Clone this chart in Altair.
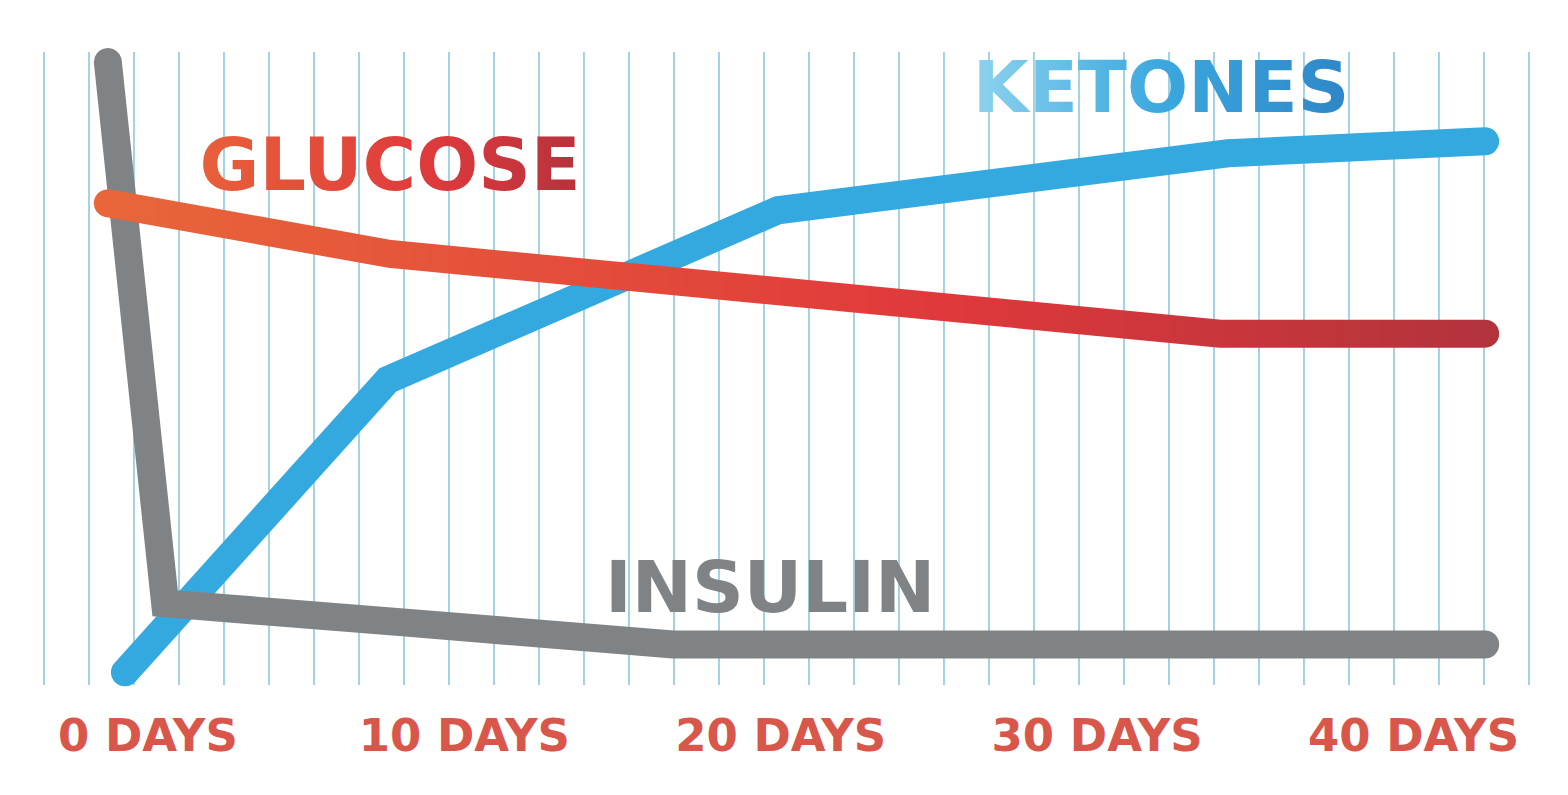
import altair as alt
import pandas as pd
import numpy as np

# ---- data ----
day_ticks = [0, 10, 20, 30, 40]
grid_start, grid_step, grid_count = -3.268, 1.4222, 34
grid_days = [round(grid_start + grid_step * k, 3) for k in range(grid_count)]

insulin_days = [-1.25, 0.56, 8.08, 16.61, 42.28]
insulin_vals = [98.4, 12.9, 9.9, 6.4, 6.4]

glucose_days = [-1.25, 7.67, 33.9, 42.28]
glucose_vals = [76.1, 68.1, 55.5, 55.5]

ketone_days = [-0.71, 7.6, 19.93, 34.15, 42.28]
ketone_vals = [2.0, 48.2, 75.0, 84.0, 85.9]

label_names = ["GLUCOSE", "KETONES", "INSULIN"]
label_days = [7.67, 32.04, 19.68]
label_vals = [78.2, 90.5, 11.5]

FONT = "DejaVu Sans"

xscale = alt.Scale(domain=[-3.268, 43.666], nice=False, zero=False)
yscale = alt.Scale(domain=[0, 100], nice=False, zero=False)
xaxis = alt.Axis(values=day_ticks, labelExpr="datum.value + ' DAYS'", grid=False,
                 ticks=False, domain=False, labelFont=FONT, labelFontWeight="bold",
                 labelFontSize=45, labelColor="#D8574A", labelPadding=65,
                 labelBaseline="alphabetic", title=None, labelFlush=False,
                 labelOverlap=False, labelLimit=0)


def X(field):
    return alt.X(f"{field}:Q", scale=xscale, axis=xaxis)


def Y(field):
    return alt.Y(f"{field}:Q", scale=yscale, axis=None)


grid_df = pd.DataFrame({"day": grid_days})
grid = alt.Chart(grid_df).mark_rule(color="#93CCDF", strokeWidth=1.7).encode(x=X("day"))

ket_df = pd.DataFrame({"day": ketone_days, "v": ketone_vals, "o": range(len(ketone_days))})
ins_df = pd.DataFrame({"day": insulin_days, "v": insulin_vals, "o": range(len(insulin_days))})
glu_df = pd.DataFrame({"day": glucose_days, "v": glucose_vals, "o": range(len(glucose_days))})

line_kw = dict(strokeWidth=28, strokeCap="round", strokeJoin="miter")

ketones = alt.Chart(ket_df).mark_line(color="#34A9DF", **line_kw).encode(
    x=X("day"), y=Y("v"), order="o:Q")
insulin = alt.Chart(ins_df).mark_line(color="#808385", **line_kw).encode(
    x=X("day"), y=Y("v"), order="o:Q")

glu_grad = alt.Gradient(
    gradient="linear", x1=0, x2=1, y1=0, y2=0,
    stops=[alt.GradientStop(color="#E8663A", offset=0),
           alt.GradientStop(color="#E0393B", offset=0.6),
           alt.GradientStop(color="#B3333C", offset=1)])
glucose = alt.Chart(glu_df).mark_line(stroke=glu_grad, **line_kw).encode(
    x=X("day"), y=Y("v"), order="o:Q")

lab_df = pd.DataFrame({"name": label_names, "day": label_days, "v": label_vals})

text_base = dict(font=FONT, fontWeight="bold", align="center", baseline="alphabetic")

glu_text_grad = alt.Gradient(
    gradient="linear", x1=0, x2=1, y1=0, y2=0,
    stops=[alt.GradientStop(color="#E8603A", offset=0),
           alt.GradientStop(color="#DF3A3C", offset=0.6),
           alt.GradientStop(color="#B6323C", offset=1)])
ket_text_grad = alt.Gradient(
    gradient="linear", x1=0, x2=1, y1=0, y2=0,
    stops=[alt.GradientStop(color="#8DD2EE", offset=0),
           alt.GradientStop(color="#3BA8DF", offset=0.5),
           alt.GradientStop(color="#2E86C6", offset=1)])

t_glu = alt.Chart(lab_df).transform_filter("datum.name == 'GLUCOSE'").mark_text(
    fill=glu_text_grad, fontSize=73, **text_base).encode(x=X("day"), y=Y("v"), text="name:N")
t_ket = alt.Chart(lab_df).transform_filter("datum.name == 'KETONES'").mark_text(
    fill=ket_text_grad, fontSize=72, **text_base).encode(x=X("day"), y=Y("v"), text="name:N")
t_ins = alt.Chart(lab_df).transform_filter("datum.name == 'INSULIN'").mark_text(
    fill="#808385", fontSize=72, **text_base).encode(x=X("day"), y=Y("v"), text="name:N")

chart = alt.layer(grid, ketones, insulin, glucose, t_glu, t_ket, t_ins).properties(
    width=1485, height=633,
    autosize=alt.AutoSizeParams(type="none"),
    padding={"left": 36, "top": 44, "right": 28, "bottom": 92},
    background="white",
).configure_view(stroke=None)

chart.save("out.html", embed_options={"renderer": "svg", "actions": False})
